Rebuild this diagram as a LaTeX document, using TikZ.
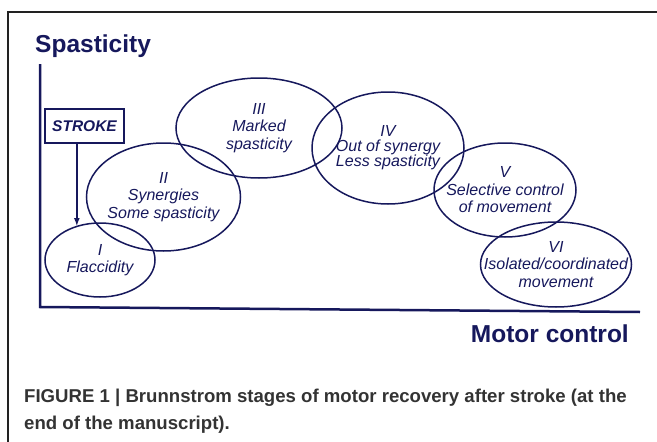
\documentclass[tikz,border=0pt]{standalone}
\usepackage{fontspec}
\setmainfont{Liberation Sans}
\usepackage{xcolor}
\usetikzlibrary{arrows}
\usetikzlibrary{shapes.geometric}
\definecolor{myblue}{RGB}{22,24,92}
\definecolor{framegray}{RGB}{34,34,34}
\definecolor{capgray}{RGB}{51,51,51}
\tikzset{
 stage/.style={ellipse, draw=myblue, line width=1.5pt, inner sep=0pt},
 stagetext/.style={align=center, text=myblue, font=\fontsize{16}{17.5}\selectfont\itshape},
 axislabel/.style={text=myblue, font=\fontsize{24.5}{26}\selectfont\bfseries, inner sep=0pt}
}

\begin{document}
\begin{tikzpicture}[x=1pt, y=-1pt]
 \useasboundingbox (0,0) rectangle (657,442);
 %frame:
 \draw[framegray, line width=2.5pt] (657,12) -- (8,12) -- (8,442);

 %axes:
 \coordinate (O) at (40,307);
 \coordinate (Ytop) at (40,64);
 \coordinate (Xend) at (640,312);
 \draw[myblue, line width=2.5pt] (Ytop) -- (O) -- (Xend);
 \node[axislabel, anchor=west] (ylab) at (35,46) {Spasticity};
 \node[axislabel, anchor=east] (xlab) at (629,334) {Motor control};

 %stages
 \node[stage, minimum width=166pt, minimum height=100pt] (stIII) at (259,128) {};
 \node[stage, minimum width=152pt, minimum height=112pt] (stIV) at (388,148) {};
 \node[stage, minimum width=154pt, minimum height=108pt] (stII) at (163.5,197) {};
 \node[stage, minimum width=142pt, minimum height=94pt] (stV) at (505,190) {};
 \node[stage, minimum width=110pt, minimum height=74pt] (stI) at (100,260) {};
 \node[stage, minimum width=151pt, minimum height=85pt] (stVI) at (556,264.5) {};

 \node[stagetext] (tI) at (stI) {I\\Flaccidity};
 \node[stagetext] (tII) at (stII) {II\\Synergies\\Some spasticity};
 \node[stagetext] (tIII) at (stIII) {III\\Marked\\spasticity};
 \node[stagetext, font=\fontsize{16}{15}\selectfont\itshape] (tIV) at (stIV) {IV\\Out of synergy\\Less spasticity};
 \node[stagetext] (tV) at (stV) {V\\Selective control\\of movement};
 \node[stagetext] (tVI) at (stVI) {VI\\Isolated/coordinated\\movement};

 %stroke
 \node[draw=myblue, line width=1.5pt, text=myblue, minimum width=79pt, minimum height=34pt, inner sep=0pt,
  font=\fontsize{15.5}{16}\selectfont\bfseries\itshape] (stroke) at (84.5,126) {STROKE};
 \draw[myblue, line width=1.6pt, -latex] (stI.124 |- stroke.south) -- (stI.124);

 %caption
 \node[anchor=west, text=capgray, align=left, inner sep=0pt,
  font=\fontsize{18.6}{27}\selectfont\bfseries] (cap) at (24,411)
  {FIGURE 1 | Brunnstrom stages of motor recovery after stroke (at the\\end of the manuscript).};
\end{tikzpicture}
\end{document}
